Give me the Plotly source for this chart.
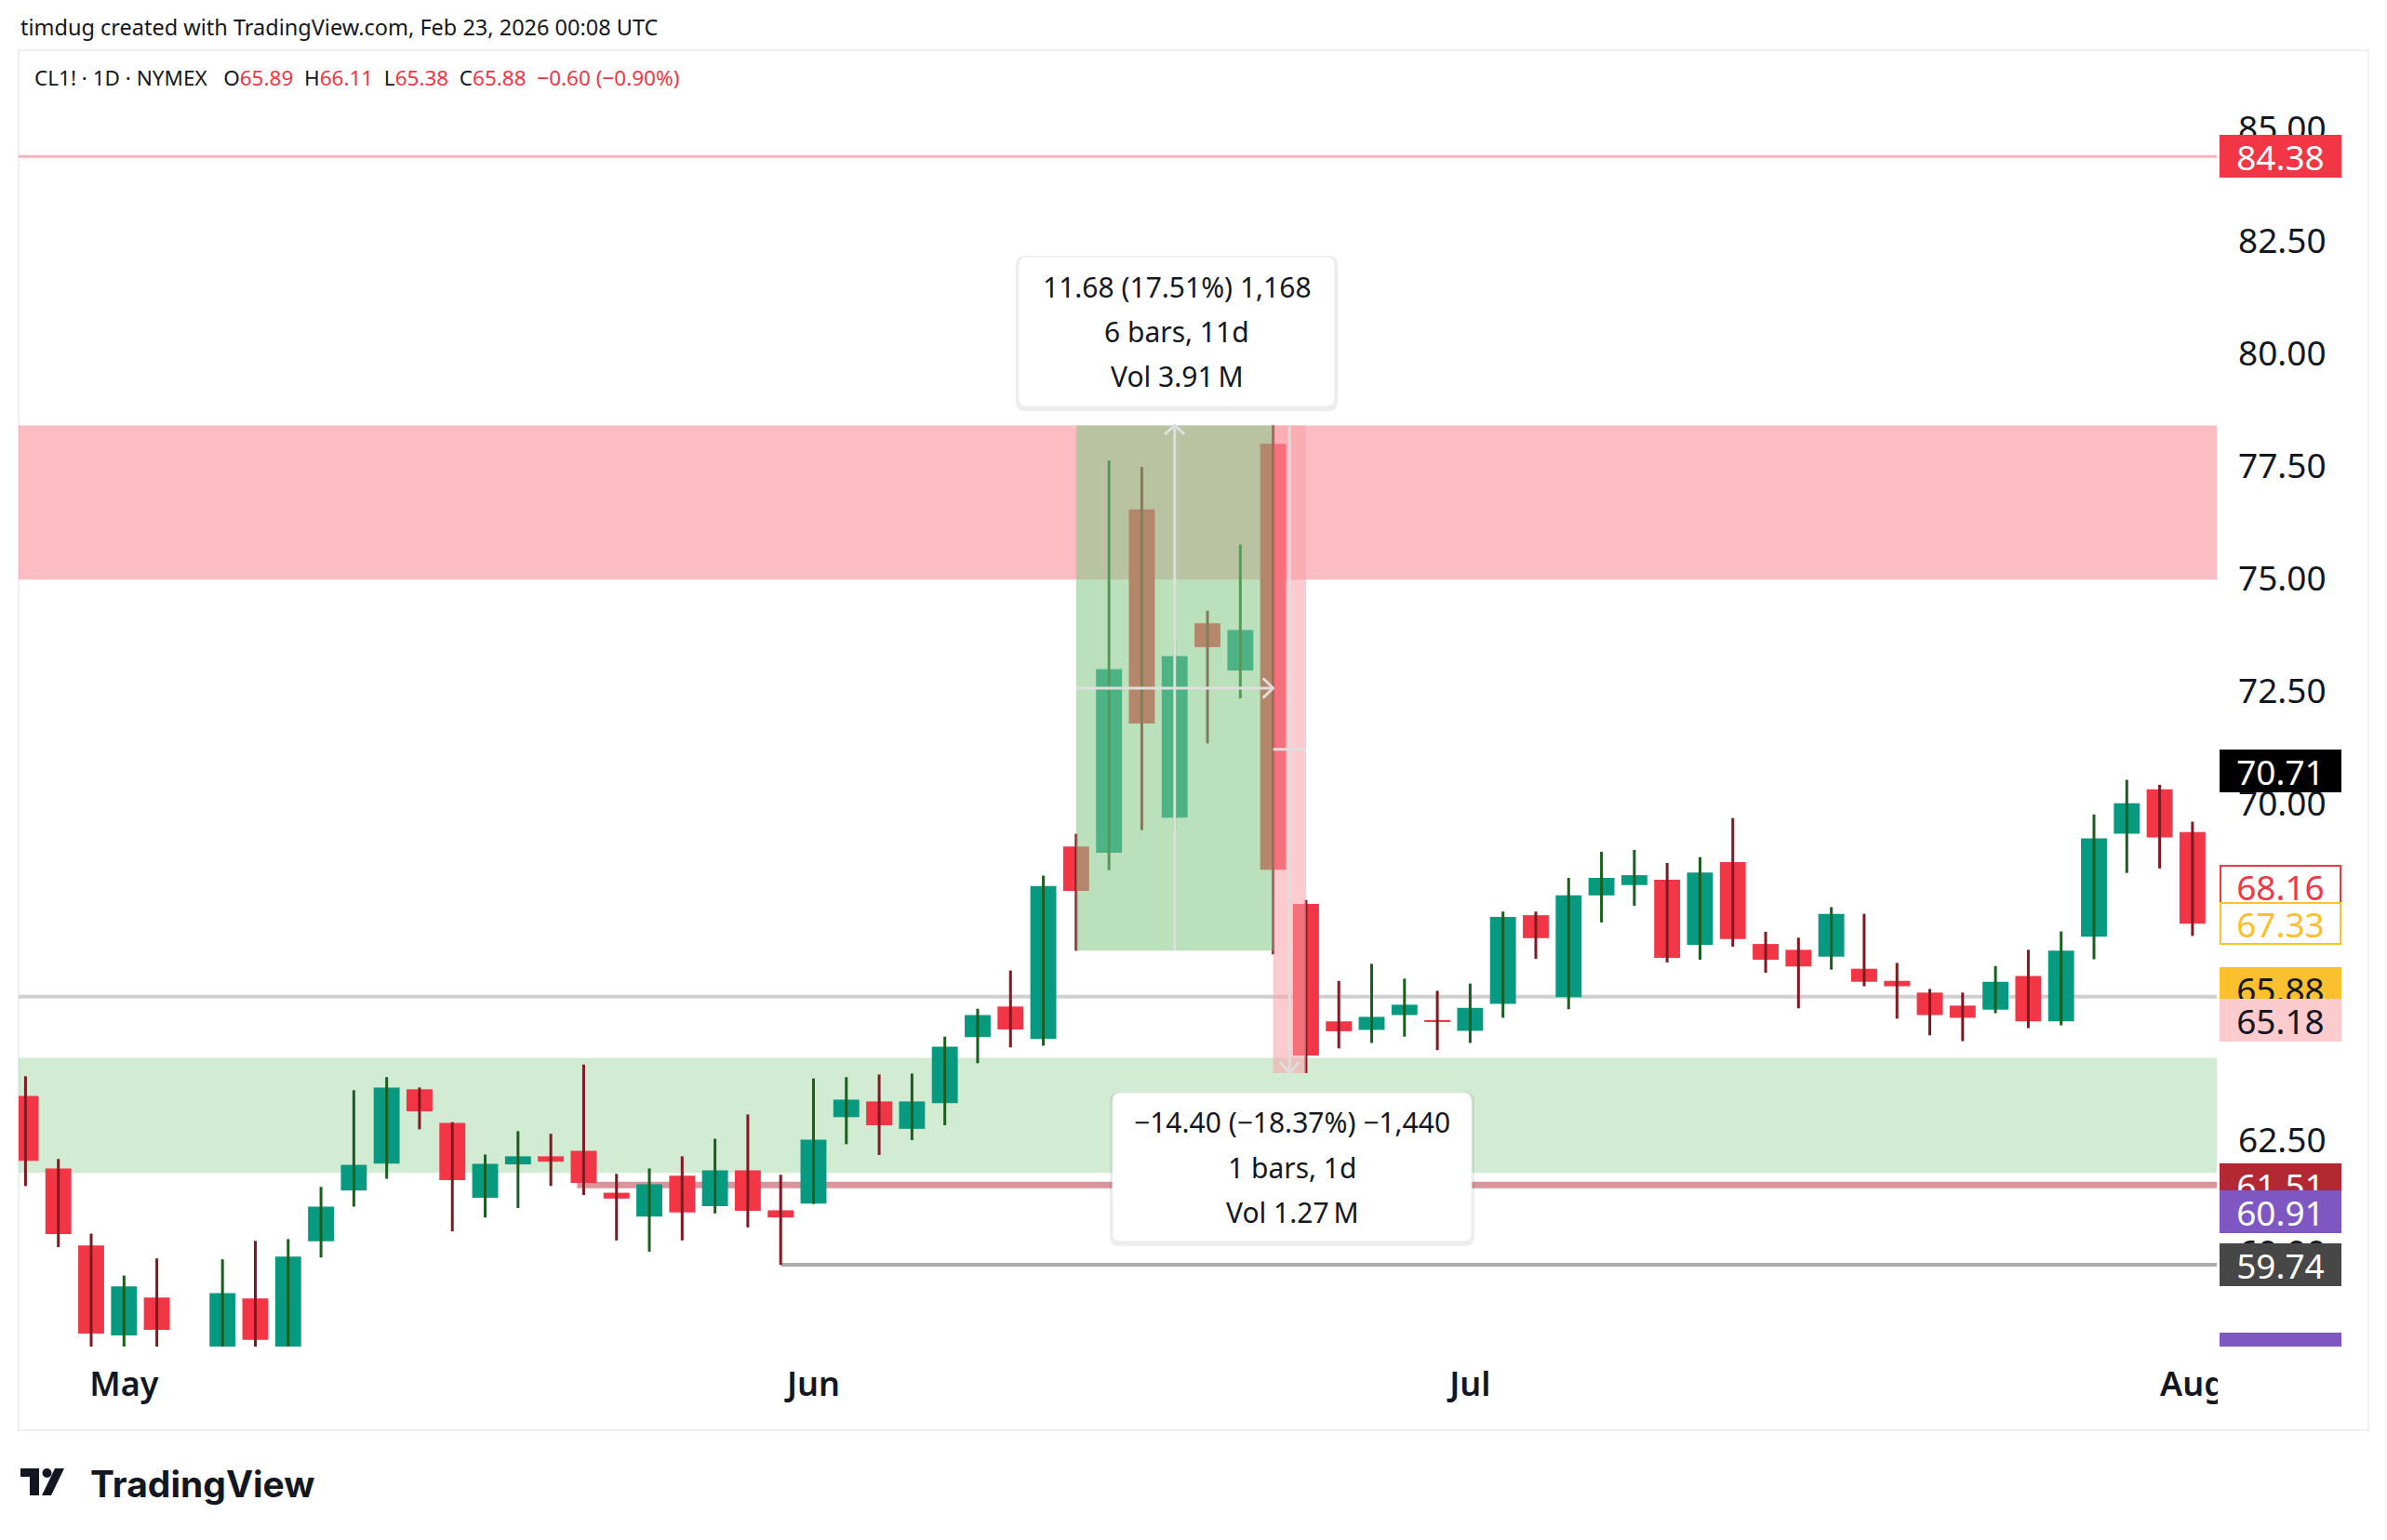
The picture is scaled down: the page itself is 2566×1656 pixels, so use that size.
import datetime as dt
import plotly.graph_objects as go

# CL1! daily bars, Apr 28 - Aug 1 2025
dates = ['2025-04-28', '2025-04-29', '2025-04-30', '2025-05-01', '2025-05-02',
         '2025-05-05', '2025-05-06', '2025-05-07', '2025-05-08', '2025-05-09',
         '2025-05-12', '2025-05-13', '2025-05-14', '2025-05-15', '2025-05-16',
         '2025-05-19', '2025-05-20', '2025-05-21', '2025-05-22', '2025-05-23',
         '2025-05-27', '2025-05-28', '2025-05-29', '2025-05-30', '2025-06-02',
         '2025-06-03', '2025-06-04', '2025-06-05', '2025-06-06', '2025-06-09',
         '2025-06-10', '2025-06-11', '2025-06-12', '2025-06-13', '2025-06-16',
         '2025-06-17', '2025-06-18', '2025-06-20', '2025-06-23', '2025-06-24',
         '2025-06-25', '2025-06-26', '2025-06-27', '2025-06-30', '2025-07-01',
         '2025-07-02', '2025-07-03', '2025-07-07', '2025-07-08', '2025-07-09',
         '2025-07-10', '2025-07-11', '2025-07-14', '2025-07-15', '2025-07-16',
         '2025-07-17', '2025-07-18', '2025-07-21', '2025-07-22', '2025-07-23',
         '2025-07-24', '2025-07-25', '2025-07-28', '2025-07-29', '2025-07-30',
         '2025-07-31', '2025-08-01']
opens = [63.49, 61.88, 60.17, 58.17, 59.01, 56.30, 57.40, 58.99, 57.80, 60.26,
         61.39, 61.99, 63.64, 62.89, 61.23, 61.97, 62.15, 62.27, 61.34, 60.81,
         61.72, 61.04, 61.84, 60.95, 61.10, 63.02, 63.37, 62.76, 63.33, 64.80,
         65.48, 64.76, 69.04, 68.90, 76.53, 69.68, 74.00, 72.95, 77.99, 67.76,
         65.15, 64.96, 65.29, 65.18, 64.94, 65.54, 67.51, 65.69, 67.95, 68.18,
         68.30, 66.85, 68.69, 66.87, 66.74, 66.59, 66.32, 66.05, 65.79, 65.50,
         65.41, 66.16, 65.15, 67.03, 69.32, 70.31, 69.36]
highs = [63.93, 62.09, 60.43, 59.50, 59.88, 57.60, 59.86, 60.27, 60.31, 61.47,
         63.62, 63.91, 63.68, 62.91, 62.19, 62.71, 62.65, 64.19, 61.76, 61.88,
         62.15, 62.54, 63.08, 61.74, 63.88, 63.91, 63.97, 63.99, 64.81, 65.43,
         66.28, 68.39, 69.32, 77.62, 77.48, 73.60, 74.28, 75.75, 78.40, 67.85,
         66.05, 66.43, 66.10, 65.83, 65.99, 67.59, 67.59, 68.34, 68.92, 68.96,
         68.67, 68.80, 69.67, 67.14, 67.01, 67.69, 67.54, 66.45, 65.87, 65.79,
         66.38, 66.74, 67.15, 69.75, 70.52, 70.41, 69.59]
lows = [61.49, 60.13, 57.60, 57.50, 57.50, 55.30, 57.10, 57.70, 57.60, 59.90,
        61.03, 61.65, 62.75, 60.48, 60.79, 61.00, 61.49, 61.29, 60.28, 60.03,
        60.28, 60.88, 60.57, 59.74, 61.09, 62.42, 62.18, 62.51, 62.84, 64.22,
        64.57, 64.61, 66.72, 68.51, 69.40, 69.40, 71.33, 72.33, 66.64, 64.00,
        64.55, 64.67, 64.81, 64.51, 64.67, 65.23, 66.54, 65.42, 67.35, 67.72,
        66.46, 66.52, 66.81, 66.23, 65.44, 66.30, 65.93, 65.21, 64.84, 64.71,
        65.33, 65.00, 65.06, 66.53, 68.45, 68.55, 67.05]
closes = [62.05, 60.42, 58.21, 59.26, 58.29, 57.13, 59.11, 58.07, 59.92, 61.03,
          61.96, 63.68, 63.15, 61.62, 61.98, 62.15, 62.03, 61.56, 61.21, 61.53,
          60.90, 61.84, 60.94, 60.79, 62.52, 63.41, 62.84, 63.37, 64.59, 65.29,
          64.97, 68.16, 68.05, 72.98, 71.77, 73.27, 73.47, 73.85, 68.52, 64.39,
          64.93, 65.25, 65.52, 65.14, 65.45, 67.47, 67.00, 67.95, 68.34, 68.40,
          66.56, 68.46, 66.98, 66.52, 66.37, 67.54, 66.03, 65.93, 65.29, 65.23,
          66.03, 65.15, 66.72, 69.22, 70.00, 69.24, 67.32]

price_ticks = [57.5, 60.0, 62.5, 65.0, 67.5, 70.0, 72.5, 75.0, 77.5, 80.0, 82.5, 85.0]

# drawings
resistance_zone = (74.97, 78.40)
support_zone = (61.78, 64.34)
level_red = 84.38
level_gray = 65.70
level_support = 61.51
level_low = 59.74
up_measure = dict(x0=32, x1=38, y0=66.72, y1=78.40)
down_measure = dict(x0=38, x1=39, y0=78.40, y1=64.00)
up_text = ['11.68 (17.51%) 1,168', '6 bars, 11d', 'Vol 3.91\u2009M']
down_text = ['\u221214.40 (\u221218.37%) \u22121,440', '1 bars, 1d', 'Vol 1.27\u2009M']

# price scale labels
label_prices = [84.38, 70.71, 68.16, 67.33, 65.88, 65.18, 61.51, 60.91, 59.74]
label_bg = ['#f23645', '#000000', '#ffffff', '#ffffff', '#fbc02d', '#fccbcd',
            '#b22833', '#7e57c2', '#474747']
label_border = ['#f23645', '#000000', '#f23645', '#fbc02d', '#fbc02d', '#fccbcd',
                '#b22833', '#7e57c2', '#474747']
label_fg = ['#ffffff', '#ffffff', '#f23645', '#fbc02d', '#131722', '#131722',
            '#ffffff', '#ffffff', '#ffffff']

UP, DOWN = '#089981', '#f23645'
UP_WICK, DOWN_WICK = '#1b5e20', '#801922'
TXT = '#131722'
FONT = 'Noto Sans'

# page pixels (the figure sits 8px in from the page corner)
PAD = 8
W, H = 2566 - 2 * PAD, 1656 - 2 * PAD
L, R, T, B = 20, 2383, 54, 1448


def px(x):
    return (x - L) / (R - L)


def py(y):
    return (B - y) / (B - T)


def rrect(x0, y0, x1, y1, r):
    return (f'M {px(x0 + r)},{py(y0)} L {px(x1 - r)},{py(y0)} '
            f'Q {px(x1)},{py(y0)} {px(x1)},{py(y0 + r)} L {px(x1)},{py(y1 - r)} '
            f'Q {px(x1)},{py(y1)} {px(x1 - r)},{py(y1)} L {px(x0 + r)},{py(y1)} '
            f'Q {px(x0)},{py(y1)} {px(x0)},{py(y1 - r)} L {px(x0)},{py(y0 + r)} '
            f'Q {px(x0)},{py(y0)} {px(x0 + r)},{py(y0)} Z')


def poly(points):
    return 'M ' + ' L '.join(f'{px(a)},{py(b)}' for a, b in points) + ' Z'


idx = list(range(len(dates)))
is_up = [c >= o for o, c in zip(opens, closes)]

# month ticks on the first trading day of each month
days = [dt.date.fromisoformat(d) for d in dates]
month_pos = [i for i in idx[1:] if days[i].month != days[i - 1].month]
month_txt = [days[i].strftime('%b') for i in month_pos]

fig = go.Figure()

# wicks
for flag, col in [(True, UP_WICK), (False, DOWN_WICK)]:
    wx, wy = [], []
    for i in idx:
        if is_up[i] == flag:
            wx += [i, i, None]
            wy += [lows[i], highs[i], None]
    fig.add_trace(go.Scatter(x=wx, y=wy, mode='lines', line=dict(color=col, width=3),
                             hoverinfo='skip', showlegend=False))

# bodies
fig.add_trace(go.Bar(
    x=idx,
    base=[min(o, c) for o, c in zip(opens, closes)],
    y=[max(abs(c - o), 0.04) for o, c in zip(opens, closes)],
    width=0.79,
    marker=dict(color=[UP if u else DOWN for u in is_up], line=dict(width=0)),
    hoverinfo='skip', showlegend=False,
))

shapes = []
# chart frame
shapes.append(dict(type='rect', xref='paper', yref='paper', x0=px(20), x1=px(2546),
                   y0=py(54), y1=py(1538), line=dict(color='#eef0f4', width=2),
                   layer='below'))
# zones and levels (under the candles)
shapes.append(dict(type='rect', xref='paper', yref='y', x0=0, x1=1,
                   y0=resistance_zone[0], y1=resistance_zone[1],
                   fillcolor='rgba(242,54,69,0.33)', line=dict(width=0), layer='below'))
shapes.append(dict(type='rect', xref='paper', yref='y', x0=0, x1=1,
                   y0=support_zone[0], y1=support_zone[1],
                   fillcolor='rgba(76,175,80,0.25)', line=dict(width=0), layer='below'))
shapes.append(dict(type='line', xref='paper', yref='y', x0=0, x1=1, y0=level_red, y1=level_red,
                   line=dict(color='#f7b3b8', width=3), layer='below'))
shapes.append(dict(type='line', xref='paper', yref='y', x0=0, x1=1, y0=level_gray, y1=level_gray,
                   line=dict(color='#d0d0d0', width=4), layer='below'))
shapes.append(dict(type='line', xref='x', yref='y', x0=16.8, x1=66.74, y0=level_support,
                   y1=level_support, line=dict(color='#da949b', width=7), layer='below'))
shapes.append(dict(type='line', xref='x', yref='y', x0=23, x1=66.74, y0=level_low, y1=level_low,
                   line=dict(color='#ababab', width=4), layer='below'))

# measurement boxes (over the candles)
m = up_measure
shapes.append(dict(type='rect', xref='x', yref='y', x0=m['x0'], x1=m['x1'], y0=m['y0'], y1=m['y1'],
                   fillcolor='rgba(133,200,135,0.56)', line=dict(width=0), layer='above'))
mid_x = (m['x0'] + m['x1']) / 2
mid_y = (m['y0'] + m['y1']) / 2
cl = dict(color='#dedede', width=3)
shapes.append(dict(type='line', xref='x', yref='y', x0=m['x0'], x1=m['x1'], y0=mid_y, y1=mid_y,
                   line=cl, layer='above'))
shapes.append(dict(type='line', xref='x', yref='y', x0=mid_x, x1=mid_x, y0=m['y0'], y1=m['y1'],
                   line=cl, layer='above'))
shapes.append(dict(type='path', xref='x', yref='y', layer='above', line=cl,
                   path=f"M {mid_x - 0.3},{m['y1'] - 0.2} L {mid_x},{m['y1']} L {mid_x + 0.3},{m['y1'] - 0.2}"))
shapes.append(dict(type='path', xref='x', yref='y', layer='above', line=cl,
                   path=f"M {m['x1'] - 0.31},{mid_y + 0.22} L {m['x1']},{mid_y} L {m['x1'] - 0.31},{mid_y - 0.22}"))

m = down_measure
shapes.append(dict(type='rect', xref='x', yref='y', x0=m['x0'], x1=m['x1'], y0=m['y0'], y1=m['y1'],
                   fillcolor='rgba(250,161,168,0.55)', line=dict(width=0), layer='above'))
mid_x = (m['x0'] + m['x1']) / 2
mid_y = (m['y0'] + m['y1']) / 2
shapes.append(dict(type='line', xref='x', yref='y', x0=m['x0'], x1=m['x1'], y0=mid_y, y1=mid_y,
                   line=cl, layer='above'))
shapes.append(dict(type='line', xref='x', yref='y', x0=mid_x, x1=mid_x, y0=m['y0'], y1=m['y1'],
                   line=cl, layer='above'))
shapes.append(dict(type='path', xref='x', yref='y', layer='above', line=cl,
                   path=f"M {mid_x - 0.28},{m['y1'] + 0.24} L {mid_x},{m['y1']} L {mid_x + 0.28},{m['y1'] + 0.24}"))

# info boxes of the measurements
for (x0, y0, x1, y1) in [(1095, 276, 1435, 437), (1196, 1175, 1582, 1335)]:
    shapes.append(dict(type='path', xref='paper', yref='paper', layer='above',
                       path=rrect(x0 - 3, y0 - 1, x1 + 3, y1 + 5, 10),
                       fillcolor='rgba(0,0,0,0.07)', line=dict(width=0)))
    shapes.append(dict(type='path', xref='paper', yref='paper', layer='above',
                       path=rrect(x0, y0, x1, y1, 9),
                       fillcolor='#ffffff', line=dict(color='#eceef2', width=1)))

# hide the overflowing part of the last month label
shapes.append(dict(type='rect', xref='paper', yref='paper', x0=px(2384), x1=px(2544),
                   y0=py(1534), y1=py(1451), fillcolor='#ffffff', line=dict(width=0),
                   layer='above'))
# clipped price label at the bottom of the scale
shapes.append(dict(type='rect', xref='paper', yref='paper', x0=px(2386), x1=px(2517),
                   y0=py(1448), y1=py(1433), fillcolor='#7e57c2', line=dict(width=0),
                   layer='above'))

# TradingView logo mark
shapes.append(dict(type='path', xref='paper', yref='paper', fillcolor='#131722', line=dict(width=0),
                   path=poly([(22, 1579), (42, 1579), (42, 1608), (32, 1608), (32, 1588), (22, 1588)])))
shapes.append(dict(type='circle', xref='paper', yref='paper', fillcolor='#131722', line=dict(width=0),
                   x0=px(45.5), x1=px(55.5), y0=py(1589), y1=py(1579)))
shapes.append(dict(type='path', xref='paper', yref='paper', fillcolor='#131722', line=dict(width=0),
                   path=poly([(59, 1579), (69, 1579), (55, 1608), (45, 1608)])))

ann = []
ann.append(dict(xref='paper', yref='paper', x=px(20), y=py(29), xanchor='left', yanchor='middle',
                text='timdug created with TradingView.com, Feb 23, 2026 00:08 UTC',
                showarrow=False, font=dict(family=FONT, size=23.5, color=TXT)))
red = '<span style="color:#f23645">%s</span>'
legend = ('CL1! \u00b7 1D \u00b7 NYMEX&nbsp;&nbsp;&nbsp;O' + red % '65.89' + '&nbsp;&nbsp;H' + red % '66.11'
          + '&nbsp;&nbsp;L' + red % '65.38' + '&nbsp;&nbsp;C' + red % '65.88'
          + '&nbsp;&nbsp;' + red % '\u22120.60 (\u22120.90%)')
ann.append(dict(xref='paper', yref='paper', x=px(35), y=py(84), xanchor='left', yanchor='middle',
                text=legend, showarrow=False, font=dict(family=FONT, size=22.5, color=TXT)))

for cx, ys, lines in [(1265, [308, 356, 404], up_text), (1389, [1206, 1255, 1303], down_text)]:
    for yy, t in zip(ys, lines):
        ann.append(dict(xref='paper', yref='paper', x=px(cx), y=py(yy), xanchor='center',
                        yanchor='middle', text=t, showarrow=False,
                        font=dict(family=FONT, size=30, color=TXT)))

for p, bg, bc, fg in zip(label_prices, label_bg, label_border, label_fg):
    ann.append(dict(xref='paper', yref='y', x=px(2451), y=p, xanchor='center', yanchor='middle',
                    text=f'{p:.2f}', showarrow=False, width=125, height=40, borderpad=1,
                    bgcolor=bg, bordercolor=bc, borderwidth=2,
                    font=dict(family=FONT, size=37, color=fg)))

ann.append(dict(xref='paper', yref='paper', x=px(95), y=py(1595), xanchor='left', yanchor='middle',
                text='TradingView', showarrow=False,
                font=dict(family='Inter', size=39, color=TXT, weight=700)))

fig.update_layout(
    width=W, height=H,
    margin=dict(l=L - PAD, r=W - (R - PAD), t=T - PAD, b=H - (B - PAD)),
    paper_bgcolor='#ffffff', plot_bgcolor='rgba(0,0,0,0)',
    showlegend=False, hovermode=False,
    shapes=shapes, annotations=ann,
    xaxis=dict(range=[-0.21, 66.74], tickmode='array', tickvals=month_pos, ticktext=month_txt,
               showgrid=False, zeroline=False, showline=False, ticks='',
               ticklabelstandoff=16,
               tickfont=dict(family=FONT, size=36, color=TXT, weight=600)),
    yaxis=dict(range=[57.92, 86.74], side='right', tickmode='array', tickvals=price_ticks,
               ticktext=[f'{v:.2f}' for v in price_ticks], showgrid=False, zeroline=False,
               showline=False, ticks='', ticklabelstandoff=22,
               tickfont=dict(family=FONT, size=37, color=TXT)),
)

fig.write_html('out.html')
